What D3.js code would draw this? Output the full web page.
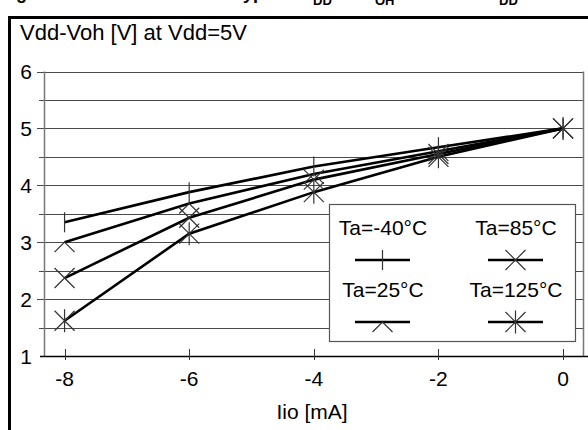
<!DOCTYPE html>
<html>
<head>
<meta charset="utf-8">
<script src="https://cdn.jsdelivr.net/npm/d3@7"></script>
<style>
  body { margin: 0; background: #fff; }
  svg { display: block; font-family: "Liberation Sans", Arial, sans-serif; }
</style>
</head>
<body>
<svg id="chart" width="588" height="430"></svg>
<script>
// data
var currents = [-8, -6, -4, -2, 0];
var vM40 = [3.35, 3.88, 4.33, 4.67, 5.0];
var v25 = [3.0, 3.68, 4.2, 4.6, 5.0];
var v85 = [2.37, 3.43, 4.1, 4.55, 5.0];
var v125 = [1.62, 3.15, 3.88, 4.5, 5.0];
var seriesNames = ["Ta=-40°C", "Ta=25°C", "Ta=85°C", "Ta=125°C"];
var xTicks = [-8, -6, -4, -2, 0];
var yTicks = [1, 2, 3, 4, 5, 6];
var gridValues = [1.5, 2, 2.5, 3, 3.5, 4, 4.5, 5, 5.5, 6];

var series = [
  {name: seriesNames[0], values: vM40, marker: "plus"},
  {name: seriesNames[1], values: v25, marker: "wedge"},
  {name: seriesNames[2], values: v85, marker: "x"},
  {name: seriesNames[3], values: v125, marker: "star"}
];

var svg = d3.select("#chart");

var x = d3.scaleLinear().domain([-8.33, 0.32]).range([44, 583]);
var y = d3.scaleLinear().domain([1, 6]).range([356, 71.5]);

// caption, cut off by the top edge as in the original
var cap = svg.append("g")
  .style("font-weight", "bold")
  .style("font-size", "18px");
cap.append("text").attr("x", 0).attr("y", -1).text("Figure 17.");
cap.append("text").attr("x", 311).attr("y", -1).attr("text-anchor", "end").text("Typical V");
cap.append("text").attr("x", 313).attr("y", 5).style("font-size", "13px").text("DD");
cap.append("text").attr("x", 373).attr("y", -1).attr("text-anchor", "end").text("- V");
cap.append("text").attr("x", 375).attr("y", 5).style("font-size", "13px").text("OH");
cap.append("text").attr("x", 497).attr("y", -1).attr("text-anchor", "end").text("at V");
cap.append("text").attr("x", 499).attr("y", 5).style("font-size", "13px").text("DD");

// outer frame
svg.append("path")
  .attr("d", "M9.5,430 L9.5,17.5 L588,17.5")
  .attr("fill", "none")
  .attr("stroke", "#000")
  .attr("stroke-width", 3);

// y axis title
svg.append("text")
  .attr("x", 20).attr("y", 40)
  .style("font-size", "22px")
  .text("Vdd-Voh [V] at Vdd=5V");

// grid lines
svg.append("g").selectAll("line")
  .data(gridValues)
  .enter().append("line")
  .attr("x1", function(d) { return d % 1 === 0 ? 37 : 39; })
  .attr("x2", 583)
  .attr("y1", function(d) { return Math.round(y(d)) + 0.5; })
  .attr("y2", function(d) { return Math.round(y(d)) + 0.5; })
  .attr("stroke", "#4a4a4a")
  .attr("stroke-width", 1);

// plot border sides
svg.append("line")
  .attr("x1", 44.5).attr("x2", 44.5)
  .attr("y1", y(6)).attr("y2", y(1))
  .attr("stroke", "#777").attr("stroke-width", 1.5);
svg.append("line")
  .attr("x1", 583.5).attr("x2", 583.5)
  .attr("y1", y(6)).attr("y2", y(1))
  .attr("stroke", "#777").attr("stroke-width", 1.5);

// y tick labels
svg.append("g").selectAll("text")
  .data(yTicks)
  .enter().append("text")
  .attr("x", 32)
  .attr("y", function(d) { return y(d) + 7.5; })
  .attr("text-anchor", "end")
  .style("font-size", "21px")
  .text(function(d) { return d; });

// x axis
svg.append("line")
  .attr("x1", 40).attr("x2", 588)
  .attr("y1", Math.round(y(1)) + 0.5).attr("y2", Math.round(y(1)) + 0.5)
  .attr("stroke", "#000").attr("stroke-width", 1.5);

svg.append("g").selectAll("line")
  .data(xTicks)
  .enter().append("line")
  .attr("x1", function(d) { return Math.round(x(d)) + 0.5; })
  .attr("x2", function(d) { return Math.round(x(d)) + 0.5; })
  .attr("y1", y(1) - 7).attr("y2", y(1) + 4)
  .attr("stroke", "#333");

svg.append("g").selectAll("text")
  .data(xTicks)
  .enter().append("text")
  .attr("x", function(d) { return x(d); })
  .attr("y", 386)
  .attr("text-anchor", "middle")
  .style("font-size", "21px")
  .text(function(d) { return d; });

svg.append("text")
  .attr("x", 312).attr("y", 419)
  .attr("text-anchor", "middle")
  .style("font-size", "21px")
  .text("Iio [mA]");

// markers
function markerPath(type, s) {
  if (type === "plus") return "M0," + (-s) + "L0," + s;
  if (type === "wedge") return "M" + (-s) + "," + s + "L0,0L" + s + "," + s;
  if (type === "x") return "M" + (-s) + "," + (-s) + "L" + s + "," + s + "M" + (-s) + "," + s + "L" + s + "," + (-s);
  return "M" + (-s) + "," + (-s) + "L" + s + "," + s + "M" + (-s) + "," + s + "L" + s + "," + (-s) +
    "M0," + (-s * 1.15) + "L0," + (s * 1.15);
}

var line = d3.line()
  .x(function(d, i) { return x(currents[i]); })
  .y(function(d) { return y(d); });

var gS = svg.append("g");
series.forEach(function(s) {
  gS.append("path")
    .datum(s.values)
    .attr("d", line)
    .attr("fill", "none")
    .attr("stroke", "#000")
    .attr("stroke-width", 2.6);
});
series.forEach(function(s) {
  gS.append("g").selectAll("path")
    .data(s.values)
    .enter().append("path")
    .attr("transform", function(d, i) { return "translate(" + x(currents[i]) + "," + y(d) + ")"; })
    .attr("d", markerPath(s.marker, 10))
    .attr("fill", "none")
    .attr("stroke", "#333")
    .attr("stroke-width", 1.2);
});

// legend
var leg = svg.append("g");
leg.append("rect")
  .attr("x", 329.5).attr("y", 204.5)
  .attr("width", 246).attr("height", 137)
  .attr("fill", "#fff")
  .attr("stroke", "#555").attr("stroke-width", 1.2);

var legPos = [
  {cx: 383, ty: 235, ly: 260},
  {cx: 383, ty: 297, ly: 322},
  {cx: 516, ty: 235, ly: 260},
  {cx: 516, ty: 297, ly: 322}
];
series.forEach(function(s, i) {
  var p = legPos[i];
  leg.append("text")
    .attr("x", p.cx).attr("y", p.ty)
    .attr("text-anchor", "middle")
    .style("font-size", "21px")
    .text(s.name);
  leg.append("line")
    .attr("x1", p.cx - 28).attr("x2", p.cx + 27)
    .attr("y1", p.ly).attr("y2", p.ly)
    .attr("stroke", "#000").attr("stroke-width", 2.6);
  leg.append("path")
    .attr("transform", "translate(" + (p.cx - 0.5) + "," + p.ly + ")")
    .attr("d", markerPath(s.marker, 10))
    .attr("fill", "none")
    .attr("stroke", "#333")
    .attr("stroke-width", 1.2);
});
</script>
</body>
</html>
